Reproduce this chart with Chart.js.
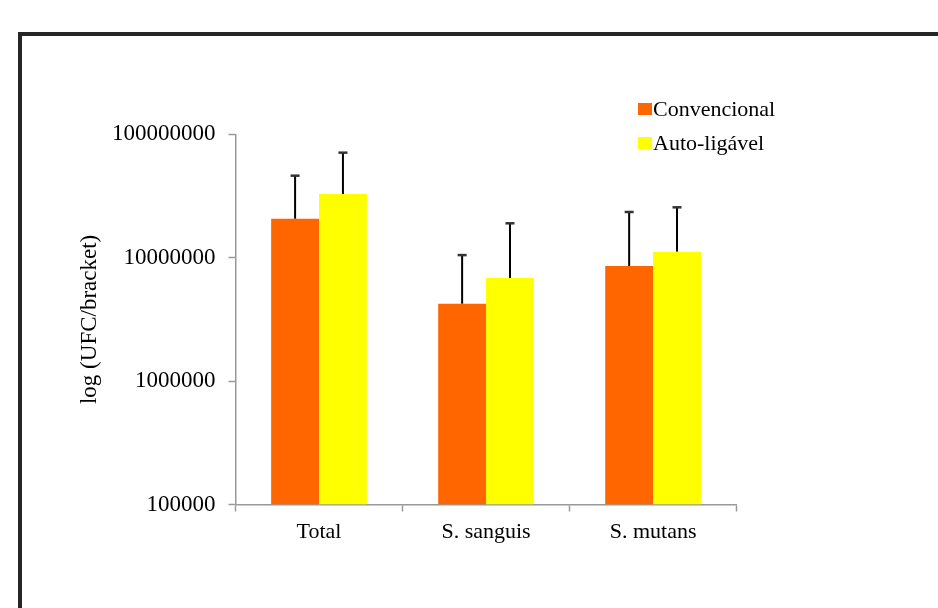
<!DOCTYPE html>
<html>
<head>
<meta charset="utf-8">
<script src="https://cdn.jsdelivr.net/npm/chart.js@4.4.0/dist/chart.umd.min.js"></script>
<style>
  body { margin: 0; background: #fff; overflow: hidden; }
  #frame { position: absolute; left: 18px; top: 32px; width: 1000px; height: 700px; border: 4px solid #262626; }
  #myChart { position: absolute; left: 0; top: 0; }
  #legend { position: absolute; left: 638px; top: 96px; font-family: 'Liberation Serif', serif; font-size: 22px; color: #000; }
  .item { height: 34px; position: relative; }
  .box { position: absolute; left: 0; top: 7px; width: 14px; height: 12px; }
  .lbl { position: absolute; left: 15px; top: 0; line-height: 26px; white-space: nowrap; }
</style>
</head>
<body>
<div id="frame"></div>
<canvas id="myChart" width="938" height="608"></canvas>
<div id="legend"></div>
<script>
// Bacterial counts per bracket (log scale)
const categories = ['Total', 'S. sanguis', 'S. mutans'];
const convencional = [20700000, 4240000, 8570000];
const autoLigavel = [32800000, 6850000, 11200000];
// standard deviation (upper error bar only)
const convencionalSd = [25500000, 6260000, 14900000];
const autoLigavelSd = [38200000, 12150000, 14400000];
const yTicks = [100000, 1000000, 10000000, 100000000];

const seriesNames = ['Convencional', 'Auto-ligável'];
const seriesColors = ['#FF6600', '#FFFF00'];

const serif = 'Liberation Serif';

// draws the error bars on top of each bar
const errorBars = {
  id: 'errorBars',
  afterDatasetsDraw(chart) {
    const ctx = chart.ctx;
    const y = chart.scales.y;
    const sds = [convencionalSd, autoLigavelSd];
    chart.data.datasets.forEach(function(ds, i) {
      const meta = chart.getDatasetMeta(i);
      meta.data.forEach(function(bar, j) {
        const top = y.getPixelForValue(ds.data[j] + sds[i][j]);
        ctx.save();
        ctx.strokeStyle = '#000';
        ctx.lineWidth = 2;
        ctx.beginPath();
        ctx.moveTo(bar.x, bar.y);
        ctx.lineTo(bar.x, top);
        ctx.stroke();
        ctx.strokeStyle = '#333';
        ctx.lineWidth = 2.5;
        ctx.beginPath();
        ctx.moveTo(bar.x - 4.5, top);
        ctx.lineTo(bar.x + 4.5, top);
        ctx.stroke();
        ctx.restore();
      });
    });
  }
};

const ctx = document.getElementById('myChart');

const chart = new Chart(ctx, {
  type: 'bar',
  data: {
    labels: categories,
    datasets: [
      { label: seriesNames[0], data: convencional, backgroundColor: seriesColors[0], borderWidth: 0 },
      { label: seriesNames[1], data: autoLigavel, backgroundColor: seriesColors[1], borderWidth: 0 }
    ]
  },
  options: {
    responsive: false,
    animation: false,
    categoryPercentage: 0.573,
    barPercentage: 1.0,
    layout: { padding: { left: 76, right: 201.4, top: 134.3, bottom: 53.5 } },
    plugins: {
      legend: { display: false },
      tooltip: { enabled: false }
    },
    scales: {
      x: {
        grid: { offset: true, drawOnChartArea: false, drawTicks: true, tickLength: 7, tickColor: '#999', tickWidth: 1.5 },
        border: { display: true, color: '#999', width: 1.5 },
        ticks: { color: '#000', padding: 8, font: { family: serif, size: 22 } },
        afterFit: function(scale) { scale.height = 50; }
      },
      y: {
        type: 'logarithmic',
        min: 100000,
        max: 100000000,
        afterBuildTicks: function(scale) {
          scale.ticks = yTicks.map(function(v) { return { value: v }; });
        },
        grid: { drawOnChartArea: false, drawTicks: true, tickLength: 7, tickColor: '#999', tickWidth: 1.5 },
        border: { display: true, color: '#999', width: 1.5 },
        ticks: {
          color: '#000',
          padding: 13,
          font: { family: serif, size: 23 },
          callback: function(v) { return String(v); }
        },
        title: {
          display: true,
          text: 'log (UFC/bracket)',
          color: '#000',
          font: { family: serif, size: 23 },
          padding: { top: 0, bottom: 0 }
        },
        afterFit: function(scale) { scale.width = 235.5 - 76; }
      }
    }
  },
  plugins: [errorBars]
});

// legend as html
const legend = document.getElementById('legend');
for (let i = 0; i < seriesNames.length; i++) {
  const item = document.createElement('div');
  item.className = 'item';
  item.innerHTML = '<span class="box" style="background:' + seriesColors[i] + '"></span><span class="lbl">' + seriesNames[i] + '</span>';
  legend.appendChild(item);
}
</script>
</body>
</html>
